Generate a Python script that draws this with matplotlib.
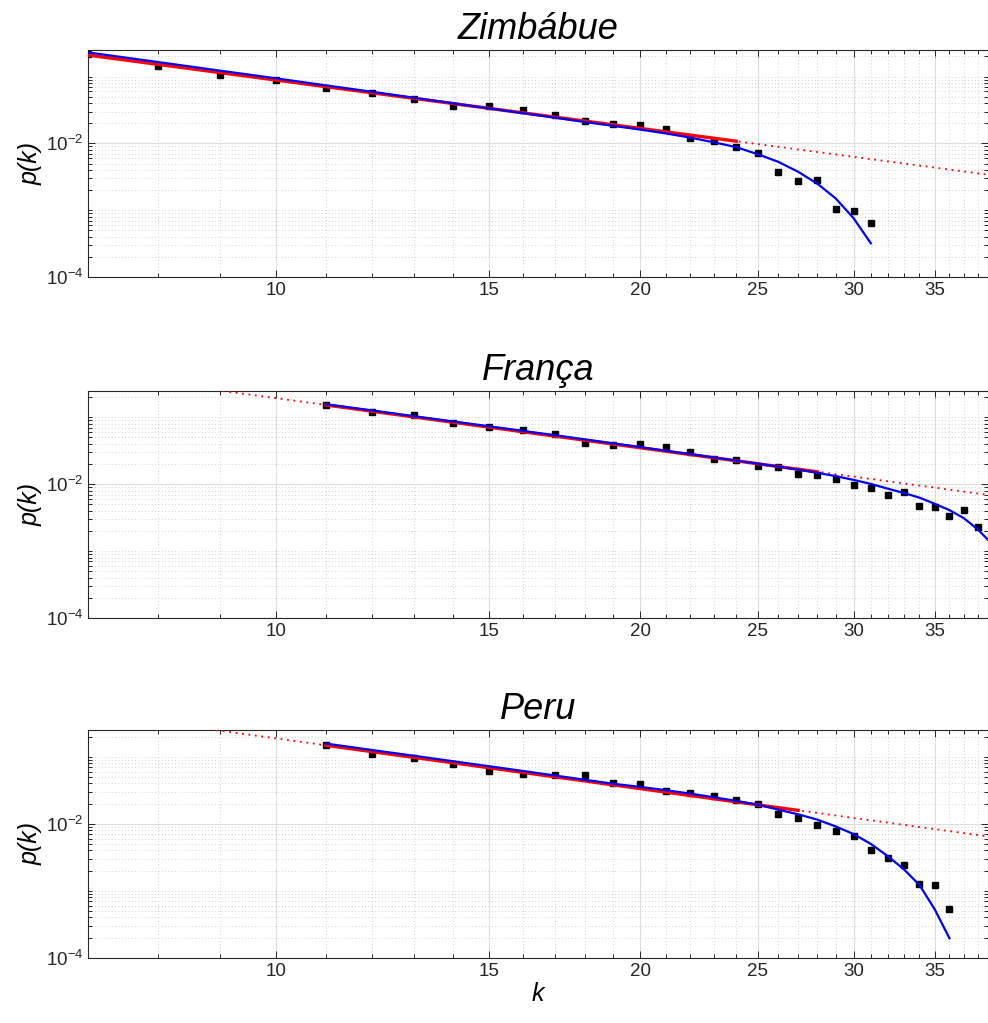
import matplotlib.pyplot as plt
import numpy as np

plt.rcParams['font.family'] = ['Liberation Sans', 'DejaVu Sans']
plt.rcParams['mathtext.default'] = 'regular'

titles = ['Zimbábue', 'França', 'Peru']

# observed degree distributions
k_zim = list(range(7, 32))
p_zim = [0.215, 0.145, 0.106, 0.0887, 0.068, 0.0561, 0.046, 0.0366, 0.0364, 0.0312,
         0.0267, 0.0215, 0.0196, 0.0188, 0.0166, 0.0122, 0.0107, 0.0089, 0.0072,
         0.00375, 0.00275, 0.00285, 0.00106, 0.00099, 0.00065]
k_fra = list(range(11, 39))
p_fra = [0.153, 0.120, 0.1074, 0.0834, 0.071, 0.064, 0.0563, 0.0412, 0.038, 0.040,
         0.0356, 0.0299, 0.024, 0.0227, 0.0185, 0.018, 0.0143, 0.0138, 0.0118, 0.0096,
         0.0087, 0.0068, 0.0077, 0.0047, 0.0045, 0.0034, 0.0041, 0.0023]
k_per = list(range(11, 37))
p_per = [0.148, 0.110, 0.097, 0.079, 0.062, 0.056, 0.054, 0.0534, 0.0406, 0.0396,
         0.0304, 0.0288, 0.0256, 0.0223, 0.0194, 0.014, 0.0123, 0.0096, 0.0079, 0.0065,
         0.0041, 0.00313, 0.00246, 0.00125, 0.00121, 0.00053]

# power law with cutoff fit (blue)
kb_zim = list(range(7, 32))
pb_zim = [0.230, 0.165, 0.1227, 0.0944, 0.0740, 0.0594, 0.0483, 0.0400, 0.0334, 0.0284,
          0.0243, 0.0209, 0.0183, 0.0161, 0.0141, 0.0122, 0.0104, 0.0088, 0.0069,
          0.0053, 0.00376, 0.0025, 0.0015, 0.00076, 0.00032]
kb_fra = list(range(11, 40))
pb_fra = [0.157, 0.127, 0.104, 0.0869, 0.0734, 0.0627, 0.054, 0.0468, 0.0408, 0.0359,
          0.0316, 0.0282, 0.0251, 0.0225, 0.0203, 0.0183, 0.0165, 0.0148, 0.0132,
          0.0116, 0.0101, 0.0086, 0.0074, 0.0063, 0.0051, 0.0041, 0.0031, 0.0021, 0.0013]
kb_per = list(range(11, 37))
pb_per = [0.157, 0.126, 0.1033, 0.0857, 0.0721, 0.0612, 0.0524, 0.0452, 0.0394, 0.0354,
          0.0316, 0.0281, 0.0248, 0.0219, 0.0192, 0.0162, 0.0138, 0.0115, 0.0091,
          0.0070, 0.0050, 0.0033, 0.0021, 0.00122, 0.00053, 0.000195]

# pure power law fit (red): fitted range and extension
kr_zim, pr_zim = [7, 24], [0.21, 0.0108]
kd_zim, pd_zim = [7, 40], [0.21, 0.00315]
kr_fra, pr_fra = [11, 28], [0.153, 0.0153]
kd_fra, pd_fra = [8, 40], [0.335, 0.0064]
kr_per, pr_per = [11, 27], [0.148, 0.0158]
kd_per, pd_per = [8, 40], [0.327, 0.00596]

panels = [
    (k_zim, p_zim, kb_zim, pb_zim, kr_zim, pr_zim, kd_zim, pd_zim),
    (k_fra, p_fra, kb_fra, pb_fra, kr_fra, pr_fra, kd_fra, pd_fra),
    (k_per, p_per, kb_per, pb_per, kr_per, pr_per, kd_per, pd_per),
]

fig = plt.figure(figsize=(9.88, 10.23), dpi=100)
left, width = 0.0891, 0.9104
bottoms = [0.7292, 0.3959, 0.0638]
heights = [0.2219, 0.2222, 0.2226]

dark = '#262626'
for i, (title, data) in enumerate(zip(titles, panels)):
    k, p, kb, pb, kr, pr, kd, pd = data
    ax = fig.add_axes([left, bottoms[i], width, heights[i]])
    ax.set_xscale('log')
    ax.set_yscale('log')

    ax.plot(k, p, 's', color='k', ms=4, zorder=3)
    ax.plot(kd, pd, color='red', lw=1.3, linestyle=(0, (1, 2.6)), zorder=4)
    ax.plot(kr, pr, color='red', lw=2.4, zorder=5)
    ax.plot(kb, pb, color='blue', lw=1.6, zorder=6)

    # ticks like matlab
    ax.set_xticks([10, 15, 20, 25, 30, 35])
    ax.set_xticklabels(['10', '15', '20', '25', '30', '35'])
    ax.set_xticks([v for v in range(7, 39) if v % 5 != 0], minor=True)
    ax.xaxis.set_minor_formatter(plt.NullFormatter())
    ax.set_yticks([1e-4, 1e-2])
    ax.set_yticklabels(['10$^{-4}$', '10$^{-2}$'])
    yminor = [m * 10.0 ** e for e in range(-4, 0) for m in range(1, 10)]
    yminor = [v for v in yminor if not np.isclose(v, 1e-4) and not np.isclose(v, 1e-2)]
    ax.set_yticks(yminor, minor=True)
    ax.yaxis.set_minor_formatter(plt.NullFormatter())

    ax.set_xlim(7, 38.7)
    ax.set_ylim(1e-4, 0.25)

    ax.tick_params(which='both', direction='in', top=True, right=True,
                   colors=dark, labelsize=13.5, width=0.7)
    ax.tick_params(which='major', length=5)
    ax.tick_params(which='minor', length=3)

    ax.grid(True, which='major', color='#dddddd', lw=0.8, linestyle='-')
    ax.grid(True, which='minor', color='#c4c4c4', lw=0.6, linestyle=(0, (1, 3)))
    ax.set_axisbelow(True)
    for s in ax.spines.values():
        s.set_color(dark)
        s.set_linewidth(0.8)

    ax.set_title(title, fontsize=26, fontstyle='italic', pad=8)
    ax.set_ylabel('p(k)', fontsize=18, fontstyle='italic', labelpad=2)
    if i == 2:
        ax.set_xlabel('k', fontsize=18, fontstyle='italic', labelpad=2)

plt.savefig('out.png', dpi=100)
plt.close()
